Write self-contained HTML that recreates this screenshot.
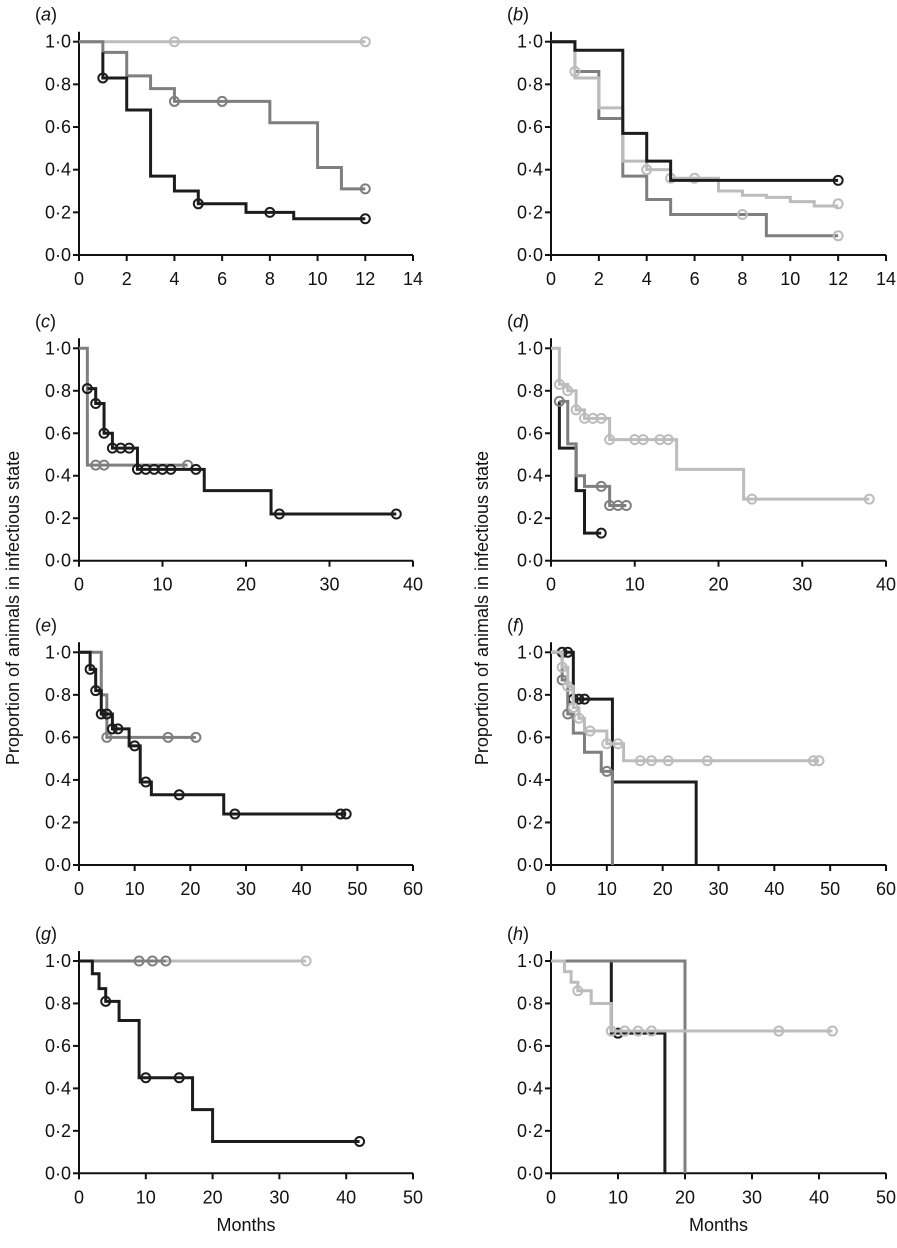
<!DOCTYPE html>
<html><head><meta charset="utf-8"><style>
html,body{margin:0;padding:0;background:#fff;}
svg text{font-family:"Liberation Sans",sans-serif;fill:#111;}
</style></head><body>
<svg id="chart" width="897" height="1243" viewBox="0 0 897 1243" xmlns="http://www.w3.org/2000/svg"></svg>
<script>
// ---- data: each series: step times, step values (value held from time i to time i+1), censor marks ----
const aLightT=[0,12], aLightV=[1,1], aLightMx=[4,12], aLightMy=[1,1];
const aMidT=[0,1,2,3,4,8,10,11,12], aMidV=[1,0.95,0.84,0.78,0.72,0.62,0.41,0.31,0.31], aMidMx=[4,6,12], aMidMy=[0.72,0.72,0.31];
const aBlackT=[1,1,2,3,4,5,7,9,12], aBlackV=[0.95,0.83,0.68,0.37,0.30,0.24,0.20,0.17,0.17], aBlackMx=[1,5,8,12], aBlackMy=[0.83,0.24,0.20,0.17];

const bBlackT=[0,1,3,4,5,12], bBlackV=[1,0.96,0.57,0.44,0.35,0.35], bBlackMx=[12], bBlackMy=[0.35];
const bMidT=[0,1,2,3,4,5,9,12], bMidV=[1,0.86,0.64,0.37,0.26,0.19,0.09,0.09], bMidMx=[], bMidMy=[];
const bLightT=[0,1,2,3,4,5,7,8,9,10,11,12], bLightV=[1,0.83,0.69,0.44,0.40,0.36,0.30,0.28,0.27,0.25,0.23,0.23], bLightMx=[1,4,5,6,8,12,12], bLightMy=[0.86,0.40,0.36,0.36,0.19,0.24,0.09];

const cMidT=[0,1,13], cMidV=[1,0.45,0.45], cMidMx=[2,3,13], cMidMy=[0.45,0.45,0.45];
const cBlackT=[1,2,3,4,7,15,23,38], cBlackV=[0.81,0.74,0.60,0.53,0.43,0.33,0.22,0.22], cBlackMx=[1,2,3,4,5,6,7,8,9,10,11,14,24,38], cBlackMy=[0.81,0.74,0.60,0.53,0.53,0.53,0.43,0.43,0.43,0.43,0.43,0.43,0.22,0.22];

const dLightT=[0,1,2,3,4,7,15,23,38], dLightV=[1,0.83,0.80,0.71,0.67,0.57,0.43,0.29,0.29], dLightMx=[1,2,3,4,5,6,7,10,11,13,14,24,38], dLightMy=[0.83,0.80,0.71,0.67,0.67,0.67,0.57,0.57,0.57,0.57,0.57,0.29,0.29];
const dMidT=[1,2,3,4,7,9], dMidV=[0.75,0.55,0.40,0.35,0.26,0.26], dMidMx=[1,6,7,8,9], dMidMy=[0.75,0.35,0.26,0.26,0.26];
const dBlackT=[1,1,3,4,6], dBlackV=[0.75,0.53,0.33,0.13,0.13], dBlackMx=[6], dBlackMy=[0.13];

const eMidT=[0,4,5,21], eMidV=[1,0.80,0.60,0.60], eMidMx=[5,16,21], eMidMy=[0.60,0.60,0.60];
const eBlackT=[0,2,3,4,6,9,11,13,26,48], eBlackV=[1,0.92,0.82,0.71,0.64,0.56,0.39,0.33,0.24,0.24], eBlackMx=[2,3,4,5,6,7,10,12,18,28,47,48], eBlackMy=[0.92,0.82,0.71,0.71,0.64,0.64,0.56,0.39,0.33,0.24,0.24,0.24];

const fLightT=[0,2,3,4,5,6,10,13,48], fLightV=[1,0.93,0.84,0.74,0.69,0.63,0.57,0.49,0.49], fLightMx=[2,3,4,5,7,10,12,16,18,21,28,47,48], fLightMy=[0.93,0.84,0.74,0.69,0.63,0.57,0.57,0.49,0.49,0.49,0.49,0.49,0.49];
const fMidT=[0,2,3,4,6,9,11,11], fMidV=[1,0.87,0.71,0.62,0.53,0.44,0,0], fMidMx=[2,3,10], fMidMy=[0.87,0.71,0.44];
const fBlackT=[0,4,11,26,26], fBlackV=[1,0.78,0.39,0,0], fBlackMx=[2,3,4,5,6], fBlackMy=[1,1,0.78,0.78,0.78];

const gLightT=[0,34], gLightV=[1,1], gLightMx=[34], gLightMy=[1];
const gMidT=[0,13], gMidV=[1,1], gMidMx=[9,11,13], gMidMy=[1,1,1];
const gBlackT=[0,2,3,4,6,9,17,20,42], gBlackV=[1,0.94,0.87,0.81,0.72,0.45,0.30,0.15,0.15], gBlackMx=[4,10,15,42], gBlackMy=[0.81,0.45,0.45,0.15];

const hLightT=[0,2,3,4,6,9,42], hLightV=[1,0.95,0.90,0.86,0.80,0.67,0.67], hLightMx=[4,9,11,13,15,34,42], hLightMy=[0.86,0.67,0.67,0.67,0.67,0.67,0.67];
const hBlackT=[0,9,17,17], hBlackV=[1,0.66,0,0], hBlackMx=[10], hBlackMy=[0.66];
const hMidT=[0,20,20], hMidV=[1,0,0], hMidMx=[], hMidMy=[];

const yTickLabels=["0·0","0·2","0·4","0·6","0·8","1·0"];
const yTickValues=[0,0.2,0.4,0.6,0.8,1.0];
const ticks14=[0,2,4,6,8,10,12,14], ticks40=[0,10,20,30,40], ticks60=[0,10,20,30,40,50,60], ticks50=[0,10,20,30,40,50];

const BLACK="#1c1c1c", MID="#7f7f7f", LIGHT="#bcbcbc";
const panels=[
 {id:"a",col:0,row:0,xmax:14,ticks:ticks14,series:[[aLightT,aLightV,aLightMx,aLightMy,LIGHT,"light"],[aMidT,aMidV,aMidMx,aMidMy,MID,"mid"],[aBlackT,aBlackV,aBlackMx,aBlackMy,BLACK,"black"]]},
 {id:"b",col:1,row:0,xmax:14,ticks:ticks14,series:[[bMidT,bMidV,bMidMx,bMidMy,MID,"mid"],[bLightT,bLightV,bLightMx,bLightMy,LIGHT,"light"],[bBlackT,bBlackV,bBlackMx,bBlackMy,BLACK,"black"]]},
 {id:"c",col:0,row:1,xmax:40,ticks:ticks40,series:[[cMidT,cMidV,cMidMx,cMidMy,MID,"mid"],[cBlackT,cBlackV,cBlackMx,cBlackMy,BLACK,"black"]]},
 {id:"d",col:1,row:1,xmax:40,ticks:ticks40,series:[[dLightT,dLightV,dLightMx,dLightMy,LIGHT,"light"],[dBlackT,dBlackV,dBlackMx,dBlackMy,BLACK,"black"],[dMidT,dMidV,dMidMx,dMidMy,MID,"mid"]]},
 {id:"e",col:0,row:2,xmax:60,ticks:ticks60,series:[[eMidT,eMidV,eMidMx,eMidMy,MID,"mid"],[eBlackT,eBlackV,eBlackMx,eBlackMy,BLACK,"black"]]},
 {id:"f",col:1,row:2,xmax:60,ticks:ticks60,series:[[fBlackT,fBlackV,fBlackMx,fBlackMy,BLACK,"black"],[fMidT,fMidV,fMidMx,fMidMy,MID,"mid"],[fLightT,fLightV,fLightMx,fLightMy,LIGHT,"light"]]},
 {id:"g",col:0,row:3,xmax:50,ticks:ticks50,series:[[gLightT,gLightV,gLightMx,gLightMy,LIGHT,"light"],[gMidT,gMidV,gMidMx,gMidMy,MID,"mid"],[gBlackT,gBlackV,gBlackMx,gBlackMy,BLACK,"black"]]},
 {id:"h",col:1,row:3,xmax:50,ticks:ticks50,series:[[hBlackT,hBlackV,hBlackMx,hBlackMy,BLACK,"black"],[hMidT,hMidV,hMidMx,hMidMy,MID,"mid"],[hLightT,hLightV,hLightMx,hLightMy,LIGHT,"light"]]}
];
const colX0=[79,551], colX1=[413,886];
const rowY1=[41.7,348.3,652.3,961], rowY0=[255,560.7,865,1173.3];

const svg=document.getElementById("chart");
const NS="http://www.w3.org/2000/svg";
function mk(tag,attrs,parent){const e=document.createElementNS(NS,tag);for(const k in attrs)e.setAttribute(k,attrs[k]);(parent||svg).appendChild(e);return e;}

panels.forEach(p=>{
  const g=mk("g",{});
  
  
  const x0=colX0[p.col],x1=colX1[p.col],y1=rowY1[p.row],y0=rowY0[p.row];
  const X=v=>x0+(x1-x0)*v/p.xmax, Y=v=>y0-(y0-y1)*v;
  const lab=mk("text",{x:x0-44,y:y1-21,"font-size":"18"},g);
  
  
  lab.innerHTML='(<tspan font-style="italic">'+p.id+'</tspan>)';
  const ax=mk("path",{d:`M${x0} ${y1-10}V${y0}H${x1}`,stroke:"#111","stroke-width":"2",fill:"none"},g);
  
  
  yTickValues.forEach((v,i)=>{
    mk("line",{x1:x0-6,x2:x0,y1:Y(v),y2:Y(v),stroke:"#111","stroke-width":"2"},g);
    const t=mk("text",{x:x0-8,y:Y(v)+6,"font-size":"18","text-anchor":"end"},g);
    
    
    t.textContent=yTickLabels[i];
  });
  p.ticks.forEach(v=>{
    mk("line",{x1:X(v),x2:X(v),y1:y0,y2:y0+6,stroke:"#111","stroke-width":"2"},g);
    const t=mk("text",{x:X(v),y:y0+30,"font-size":"18","text-anchor":"middle"},g);
    
    
    t.textContent=String(v);
  });
  p.series.forEach(s=>{
    const [T,V,MX,MY,col,nm]=s;
    let d=`M${X(T[0])} ${Y(V[0])}`;
    for(let i=1;i<T.length;i++){d+=`H${X(T[i])}V${Y(V[i])}`;}
    const path=mk("path",{d:d,stroke:col,"stroke-width":"3",fill:"none"},g);
    
    
    MX.forEach((mx,i)=>{
      const c=mk("circle",{cx:X(mx),cy:Y(MY[i]),r:"4.5",stroke:col,"stroke-width":"2",fill:"none"},g);
      
      
    });
  });
});
[0,1].forEach(c=>{
  const cx=c===0?14:483;
  const t=mk("text",{x:cx,y:608,"font-size":"18","text-anchor":"middle",transform:`rotate(-90 ${cx} 608)`,"dominant-baseline":"middle"});
  
  
  t.textContent="Proportion of animals in infectious state";
  const m=mk("text",{x:(colX0[c]+colX1[c])/2,y:1231,"font-size":"18","text-anchor":"middle"});
  
  
  m.textContent="Months";
});
</script>
</body></html>
